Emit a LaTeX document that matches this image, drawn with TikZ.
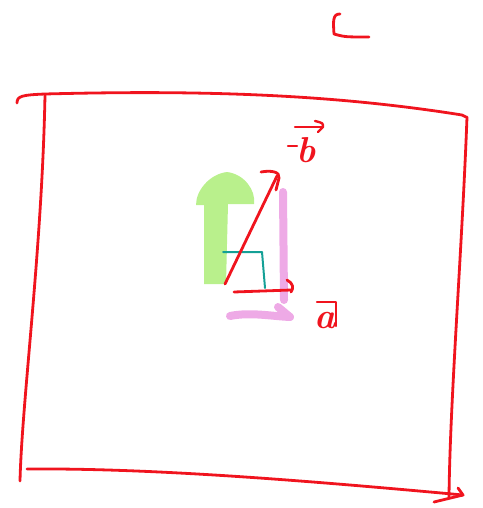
\documentclass[tikz,border=0pt]{standalone}
\begin{document}
\begin{tikzpicture}[x=1pt,y=-1pt,line cap=round,line join=round,
  pen/.style={draw=penred,line width=2.8pt},
  thin pen/.style={draw=penred,line width=2.4pt},
  marker/.style={line width=8pt,draw=markpink},
  lbl/.style={text=penred,inner sep=0pt,font=\fontsize{36}{38}\selectfont\bfseries\itshape}]
\definecolor{penred}{RGB}{240,20,30}
\definecolor{markpink}{RGB}{238,170,230}
\definecolor{markgreen}{RGB}{185,240,140}
\definecolor{teal2}{RGB}{20,160,150}
\useasboundingbox (0,0) rectangle (482,508);
% corner mark
\draw[pen] (340,14) .. controls (333,14) and (333,20) .. (334,34) .. controls (345,37) .. (369,37);
% frame
\draw[pen] (17,103) .. controls (17,96) and (22,95) .. (45,94)
  .. controls (200,90) and (330,94) .. (462,115) -- (466,117);
\draw[pen] (45,95) .. controls (42,250) and (22,400) .. (20,481);
\draw[pen] (467,117) .. controls (462,250) and (450,400) .. (449,497);
\coordinate (btip) at (463,495);
\draw[pen] (27,469) .. controls (150,468) and (300,480) .. (btip);
\draw[pen] (458,488) -- (btip) -- (434,502);
% green arrow
\fill[markgreen] (204,284) -- (204,205) -- (196,205) .. controls (196,190) and (210,174) .. (227,172)
  .. controls (244,174) and (256,190) .. (254,204) -- (228,204) -- (226,284) -- cycle;
% pink vertical
\draw[marker] (283,192) -- (284,300);
% pink arrow
\draw[marker] (230,316) .. controls (250,312) and (270,316) .. (290,317);
\draw[marker] (278,307) -- (290,317);
% teal right angle
\draw[teal2,line width=2pt] (223,252) -- (262,252) -- (265,288);
% vector b
\coordinate (bstart) at (225,284);
\coordinate (bend) at (277,176);
\draw[pen] (bstart) -- (bend);
\draw[pen] (261,172) .. controls (272,170) and (280,172) .. (279,178) -- (276,190);
% vector a
\draw[pen] (234,292) -- (291,290);
\draw[pen] (287,280) .. controls (293,283) and (294,288) .. (291,292);
% labels
\node[lbl] (lb) at (306,150) {b};
\draw[thin pen] ([shift={(-11,-23)}]lb.center) -- ([shift={(17,-23)}]lb.center);
\draw[thin pen] ([shift={(9,-29)}]lb.center) .. controls ([shift={(17,-27)}]lb.center) .. ([shift={(17,-23)}]lb.center) -- ([shift={(12,-18)}]lb.center);
\draw[thin pen] ([shift={(-18,-4)}]lb.center) -- ([shift={(-9,-4)}]lb.center);
\node[lbl] (la) at (325,321) {a};
\draw[thin pen] ([shift={(-8,-19)}]la.center) -- ([shift={(11,-19)}]la.center) -- ([shift={(11,5)}]la.center);
\end{tikzpicture}
\end{document}
